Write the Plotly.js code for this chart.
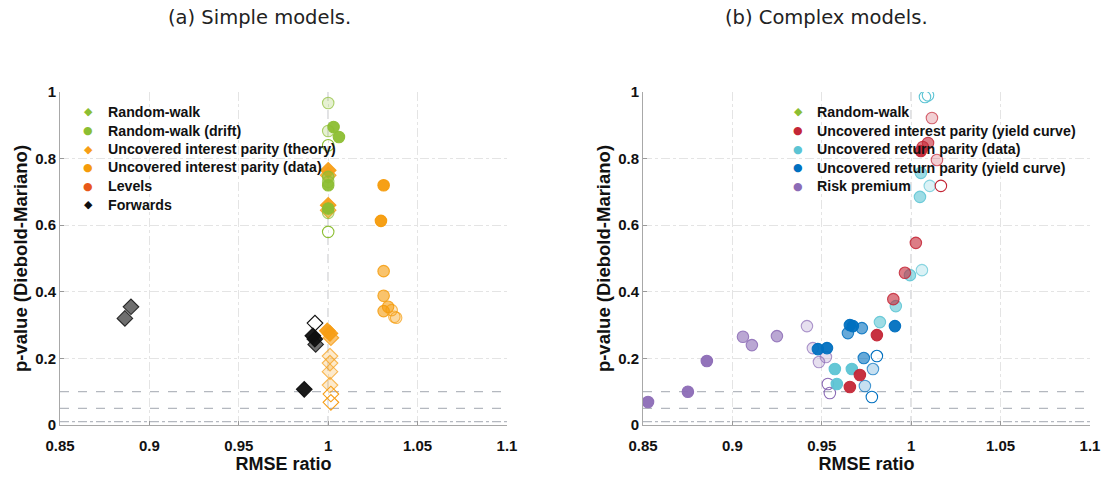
<!DOCTYPE html>
<html>
<head>
<meta charset="utf-8">
<script src="https://cdn.plot.ly/plotly-3.0.1.min.js"></script>
<style>html,body{margin:0;padding:0;background:#fff;}#chart{width:1101px;height:477px;}</style>
</head>
<body>
<div id="chart"></div>
<script>
// ---------- Data: panel (a) Simple models ----------
// h = forecast-horizon group (1 = shortest ... 4 = longest)
const rwX = [];
const rwY = [];
const rwH = [];

const rwDriftX = [1.000, 1.003, 1.000, 1.006, 1.000, 1.000, 1.000, 1.000, 1.000, 1.000, 1.000];
const rwDriftY = [0.967, 0.895, 0.883, 0.865, 0.840, 0.745, 0.730, 0.720, 0.650, 0.637, 0.580];
const rwDriftH = [3, 1, 3, 1, 4, 2, 3, 1, 1, 3, 4];

const uipTheoryX = [1.000, 1.000, 1.000, 1.000, 0.9995, 1.001, 1.0015, 1.001, 1.001, 1.001, 1.001, 1.0015, 1.0015];
const uipTheoryY = [0.765, 0.750, 0.660, 0.645, 0.283, 0.275, 0.262, 0.207, 0.186, 0.160, 0.120, 0.093, 0.068];
const uipTheoryH = [1, 2, 1, 2, 1, 1, 2, 3, 3, 3, 3, 4, 4];

const uipDataX = [1.031, 1.0295, 1.031, 1.031, 1.031, 1.0335, 1.0355, 1.037, 1.038];
const uipDataY = [0.720, 0.613, 0.462, 0.388, 0.342, 0.355, 0.345, 0.325, 0.322];
const uipDataH = [1, 1, 2, 2, 2, 2, 3, 3, 3];

const levelsX = [];
const levelsY = [];
const levelsH = [];

const forwardsX = [0.8897, 0.8863, 0.9926, 0.9914, 0.9925, 0.9930, 0.9866];
const forwardsY = [0.355, 0.320, 0.306, 0.268, 0.258, 0.242, 0.107];
const forwardsH = [2, 2, 4, 1, 1, 2, 1];

// ---------- Data: panel (b) Complex models ----------
const rw2X = [];
const rw2Y = [];
const rw2H = [];

const uipYcX = [1.0116, 1.0094, 1.0065, 1.0054, 1.0144, 1.0166, 1.0026, 0.9965, 0.9900, 0.9808, 0.9713, 0.9657];
const uipYcY = [0.922, 0.847, 0.835, 0.823, 0.796, 0.718, 0.547, 0.457, 0.378, 0.270, 0.150, 0.114];
const uipYcH = [3, 2, 2, 1, 3, 4, 2, 2, 2, 1, 1, 1];

const urpDataX = [1.0077, 1.0094, 1.0054, 1.0104, 1.0049, 0.9993, 1.0060, 0.9914, 0.9825, 0.9573, 0.9668, 0.9584];
const urpDataY = [0.985, 0.990, 0.757, 0.718, 0.685, 0.450, 0.465, 0.357, 0.309, 0.168, 0.168, 0.123];
const urpDataH = [4, 4, 2, 3, 2, 2, 3, 2, 2, 1, 1, 1];

const urpYcX = [0.9478, 0.9529, 0.9646, 0.9657, 0.9674, 0.9724, 0.9735, 0.9808, 0.9786, 0.9741, 0.9780, 0.9909];
const urpYcY = [0.228, 0.231, 0.276, 0.300, 0.297, 0.291, 0.201, 0.207, 0.168, 0.117, 0.084, 0.297];
const urpYcH = [1, 1, 2, 1, 1, 2, 2, 4, 3, 3, 4, 1];

const riskX = [0.8528, 0.8751, 0.8857, 0.9059, 0.9109, 0.9249, 0.9417, 0.9450, 0.9484, 0.9523, 0.9534, 0.9545];
const riskY = [0.069, 0.100, 0.192, 0.265, 0.240, 0.267, 0.297, 0.231, 0.189, 0.204, 0.123, 0.096];
const riskH = [1, 1, 1, 2, 2, 2, 3, 3, 3, 3, 4, 4];

// ---------- Legend labels ----------
const legendNamesA = ['Random-walk', 'Random-walk (drift)', 'Uncovered interest parity (theory)',
  'Uncovered interest parity (data)', 'Levels', 'Forwards'];
const legendNamesB = ['Random-walk', 'Uncovered interest parity (yield curve)', 'Uncovered return parity (data)',
  'Uncovered return parity (yield curve)', 'Risk premium'];

// ---------- Reference values ----------
const sigLevels = [0.1, 0.05];
const sigLevelStrict = 0.01;
const benchmarkRatio = 1;

const xTicks = [0.85, 0.9, 0.95, 1, 1.05, 1.1];
const xTickText = ['0.85', '0.9', '0.95', '1', '1.05', '1.1'];
const yTicks = [0, 0.2, 0.4, 0.6, 0.8, 1];
const yTickText = ['0', '0.2', '0.4', '0.6', '0.8', '1'];

// ---------- Styling ----------
const W = 1101, H = 477;
const COL = {
  green: [140, 190, 50],
  orange: [247, 158, 22],
  orangeData: [245, 155, 10],
  levels: [232, 88, 25],
  black: [15, 15, 15],
  red: [196, 38, 54],
  cyan: [92, 196, 212],
  blue: [0, 112, 192],
  purple: [140, 108, 182]
};
const fillAlpha = {1: 0.95, 2: 0.6, 3: 0.22, 4: 0};
const edgeAlpha = {1: 0.95, 2: 0.85, 3: 0.7, 4: 1};
const rgba = (c, a) => `rgba(${c[0]},${c[1]},${c[2]},${a})`;

function pts(x, y, h, c, symbol, size, xa, ya) {
  return {
    type: 'scatter', mode: 'markers', x: x, y: y, xaxis: xa, yaxis: ya,
    showlegend: false, hoverinfo: 'x+y',
    marker: {
      symbol: symbol, size: size,
      color: h.map(v => rgba(c, fillAlpha[v])),
      line: {width: 1.1, color: h.map(v => rgba(c, edgeAlpha[v]))}
    }
  };
}

const CIRC = 11.5, DIAM = 12;
const traces = [
  pts(rwX, rwY, rwH, COL.green, 'diamond', DIAM, 'x', 'y'),
  pts(forwardsX, forwardsY, forwardsH, COL.black, 'diamond', DIAM, 'x', 'y'),
  pts(uipTheoryX, uipTheoryY, uipTheoryH, COL.orange, 'diamond', DIAM, 'x', 'y'),
  pts(uipDataX, uipDataY, uipDataH, COL.orangeData, 'circle', CIRC, 'x', 'y'),
  pts(levelsX, levelsY, levelsH, COL.levels, 'circle', CIRC, 'x', 'y'),
  pts(rwDriftX, rwDriftY, rwDriftH, COL.green, 'circle', CIRC, 'x', 'y'),

  pts(rw2X, rw2Y, rw2H, COL.green, 'diamond', DIAM, 'x2', 'y2'),
  pts(riskX, riskY, riskH, COL.purple, 'circle', CIRC, 'x2', 'y2'),
  pts(urpYcX, urpYcY, urpYcH, COL.blue, 'circle', CIRC, 'x2', 'y2'),
  pts(urpDataX, urpDataY, urpDataH, COL.cyan, 'circle', CIRC, 'x2', 'y2'),
  pts(uipYcX, uipYcY, uipYcH, COL.red, 'circle', CIRC, 'x2', 'y2')
];

const FONT = 'Liberation Sans, Arial, sans-serif';
const tickFont = {family: FONT, size: 15, color: '#111', weight: 'bold'};
const titleFont = {family: FONT, size: 18, color: '#111', weight: 'bold'};

function xAxis(domain, anchor) {
  return {
    domain: domain, anchor: anchor, range: [0.85, 1.1],
    tickvals: xTicks, ticktext: xTickText, tickfont: tickFont,
    ticks: 'inside', ticklen: 4, tickcolor: '#999', ticklabelstandoff: 7,
    showline: true, linecolor: '#a8a8a8', linewidth: 1, mirror: false,
    showgrid: true, gridcolor: '#e4e4e4', griddash: 'dashdot', gridwidth: 1,
    zeroline: false, fixedrange: true,
    title: {text: 'RMSE ratio', font: titleFont, standoff: 4}
  };
}
function yAxis(domain, anchor) {
  return {
    domain: domain, anchor: anchor, range: [0, 1],
    tickvals: yTicks, ticktext: yTickText, tickfont: tickFont,
    ticks: 'inside', ticklen: 4, tickcolor: '#999',
    showline: true, linecolor: '#a8a8a8', linewidth: 1, mirror: false,
    showgrid: true, gridcolor: '#e4e4e4', griddash: 'dashdot', gridwidth: 1,
    zeroline: false, fixedrange: true,
    title: {text: 'p-value (Diebold-Mariano)', font: Object.assign({}, titleFont, {size: 18.5}), standoff: 2}
  };
}

const refLine = {color: '#b4b8bf', width: 1.2};
const shapes = [];
['x', 'x2'].forEach((xa, i) => {
  const ya = i === 0 ? 'y' : 'y2';
  sigLevels.forEach(s => shapes.push({type: 'line', layer: 'below', xref: xa + ' domain', yref: ya,
    x0: 0, x1: 1, y0: s, y1: s, line: Object.assign({dash: 'dash'}, refLine)}));
  shapes.push({type: 'line', layer: 'below', xref: xa + ' domain', yref: ya,
    x0: 0, x1: 1, y0: sigLevelStrict, y1: sigLevelStrict, line: Object.assign({dash: 'dashdot'}, refLine)});
  shapes.push({type: 'line', layer: 'below', xref: xa, yref: ya + ' domain',
    x0: benchmarkRatio, x1: benchmarkRatio, y0: 0, y1: 1, line: Object.assign({dash: 'dash'}, refLine)});
});

// ---------- Legends (drawn as text annotations) ----------
const annotations = [
  {text: '(a) Simple models.', xref: 'paper', yref: 'paper', x: 259 / W, y: 1 - 18 / H,
    xanchor: 'center', yanchor: 'middle', showarrow: false,
    font: {family: 'DejaVu Sans, sans-serif', size: 19.5, color: '#222'}},
  {text: '(b) Complex models.', xref: 'paper', yref: 'paper', x: 826 / W, y: 1 - 18 / H,
    xanchor: 'center', yanchor: 'middle', showarrow: false,
    font: {family: 'DejaVu Sans, sans-serif', size: 19.5, color: '#222'}}
];
function addLegend(names, colors, glyphs, markerPx, textPx, topPx, rowPx, fontSize) {
  names.forEach((n, i) => {
    const yy = 1 - (topPx + i * rowPx) / H;
    annotations.push({text: glyphs[i], xref: 'paper', yref: 'paper', x: markerPx / W, y: yy,
      xanchor: 'center', yanchor: 'middle', showarrow: false,
      font: {family: 'DejaVu Sans, sans-serif', size: 11, color: rgba(colors[i], 1)}});
    annotations.push({text: n, xref: 'paper', yref: 'paper', x: textPx / W, y: yy,
      xanchor: 'left', yanchor: 'middle', showarrow: false,
      font: {family: FONT, size: fontSize, color: '#111', weight: 'bold'}});
  });
}
const DIA = '\u25C6', DOT = '\u25CF';
addLegend(legendNamesA,
  [COL.green, COL.green, COL.orange, COL.orangeData, COL.levels, COL.black],
  [DIA, DOT, DIA, DOT, DOT, DIA], 88, 106, 112, 18.5, 14.2);
addLegend(legendNamesB,
  [COL.green, COL.red, COL.cyan, COL.blue, COL.purple],
  [DIA, DOT, DOT, DOT, DOT], 798, 815, 112, 18.6, 14.2);

const layout = {
  width: W, height: H,
  margin: {l: 0, r: 0, t: 0, b: 0},
  paper_bgcolor: '#fff', plot_bgcolor: '#fff',
  showlegend: false,
  xaxis: xAxis([60 / W, 507 / W], 'y'),
  yaxis: yAxis([1 - 425 / H, 1 - 92 / H], 'x'),
  xaxis2: xAxis([643 / W, 1090 / W], 'y2'),
  yaxis2: yAxis([1 - 425 / H, 1 - 92 / H], 'x2'),
  shapes: shapes,
  annotations: annotations
};

Plotly.newPlot('chart', traces, layout, {displayModeBar: false, staticPlot: true});
</script>
</body>
</html>
